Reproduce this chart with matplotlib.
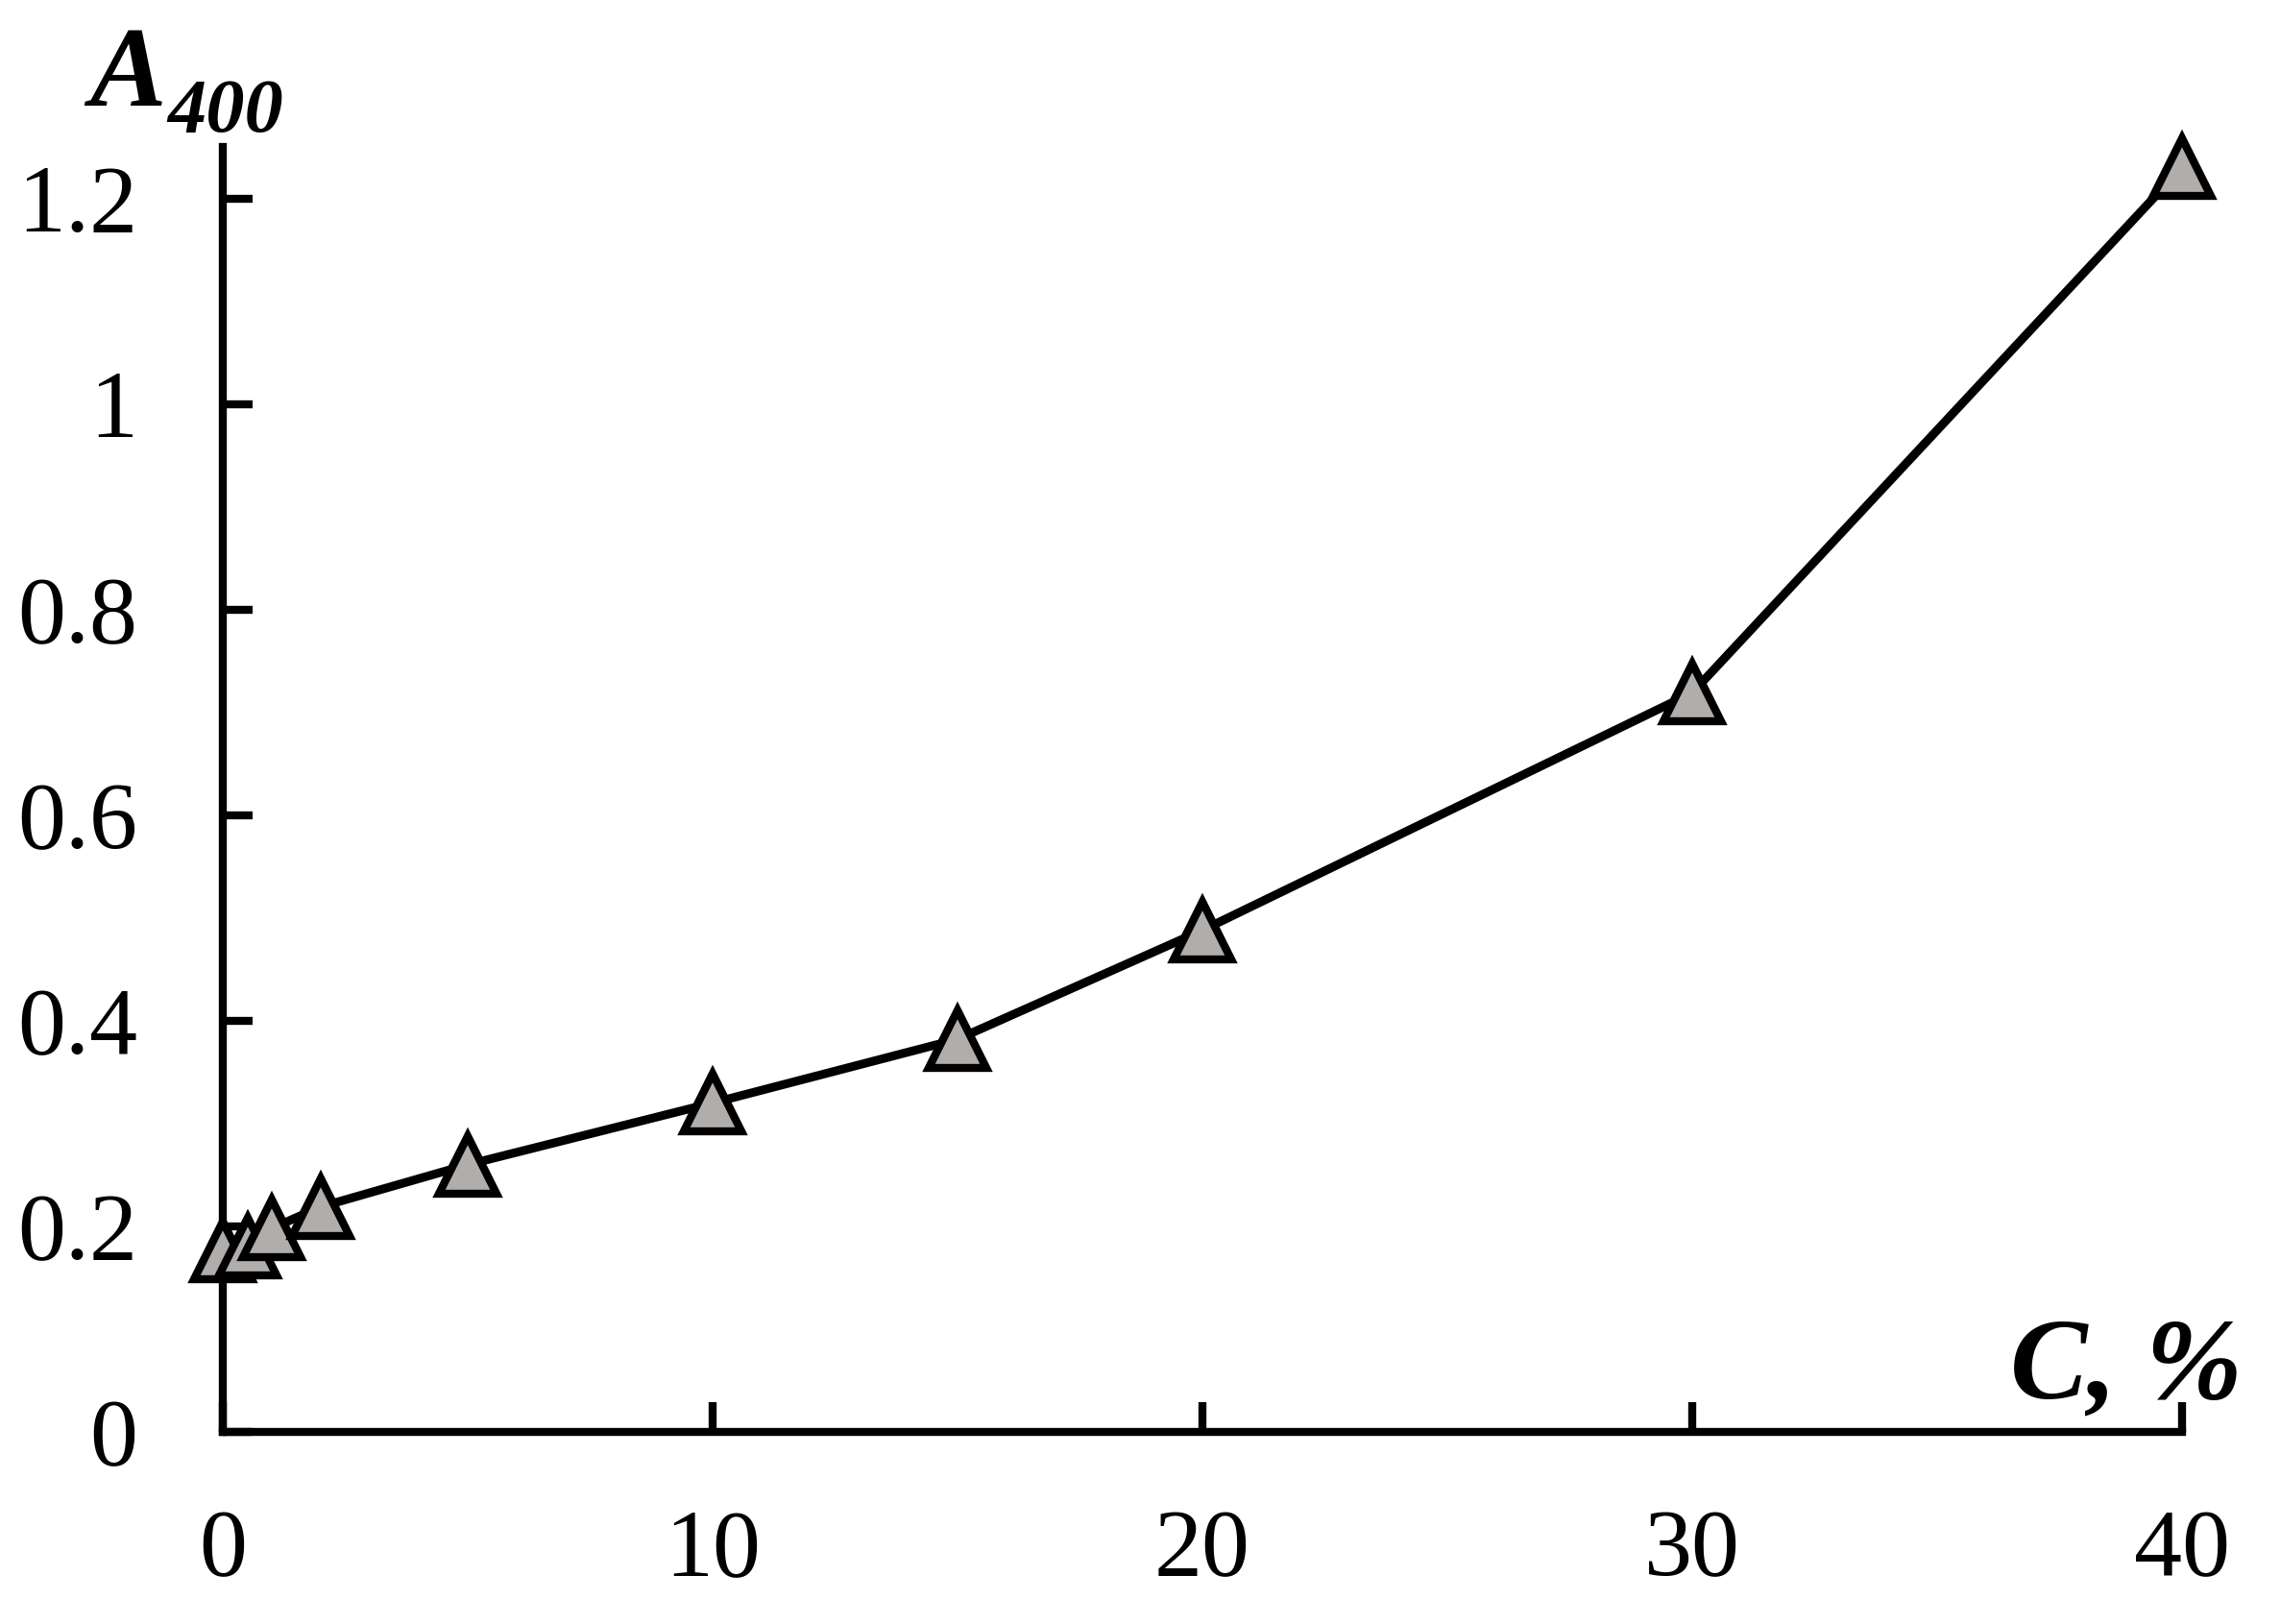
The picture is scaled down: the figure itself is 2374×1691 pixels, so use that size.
import matplotlib
matplotlib.use("Agg")
import matplotlib.pyplot as plt

conc = [0, 0.5, 1, 2, 5, 10, 15, 20, 30, 40]
a400 = [0.177, 0.18, 0.198, 0.219, 0.26, 0.32, 0.382, 0.488, 0.719, 1.23]
xticks = [0, 10, 20, 30, 40]
yticks = [0, 0.2, 0.4, 0.6, 0.8, 1.0, 1.2]
ytick_labels = ["0", "0.2", "0.4", "0.6", "0.8", "1", "1.2"]

plt.rcParams['font.family'] = ['Liberation Serif', 'DejaVu Serif']

W, H = 2374, 1691
fig = plt.figure(figsize=(W / 100, H / 100), dpi=100)
ax = fig.add_axes([232 / W, 1 - 1491 / H, (2272 - 232) / W, (1491 - 153) / H])

ax.plot(conc, a400, color='black', lw=6.5, marker='^', markersize=43,
        markerfacecolor='#b1adab', markeredgecolor='black', markeredgewidth=6,
        clip_on=False, zorder=5)

ax.set_xlim(0, 40)
ax.set_ylim(0, 1.25)
ax.set_xticks(xticks)
ax.set_xticklabels([str(t) for t in xticks])
ax.set_yticks(yticks)
ax.set_yticklabels(ytick_labels)

for s in ['top', 'right']:
    ax.spines[s].set_visible(False)
for s in ['left', 'bottom']:
    ax.spines[s].set_linewidth(6)

ax.tick_params(axis='both', direction='in', length=22, width=6, labelsize=72)
ax.tick_params(axis='x', pad=58)
ax.tick_params(axis='y', pad=64)

fig.text(93 / W, 1 - 110 / H, 'A', fontsize=86, fontweight='bold', fontstyle='italic',
         ha='left', va='baseline')
fig.text(174 / W, 1 - 138 / H, '400', fontsize=58, fontweight='bold', fontstyle='italic',
         ha='left', va='baseline')
fig.text(2335 / W, 1 - 1455 / H, 'C, %', fontsize=87, fontweight='bold', fontstyle='italic',
         ha='right', va='baseline')

fig.savefig('out.png', dpi=100, facecolor='white')
